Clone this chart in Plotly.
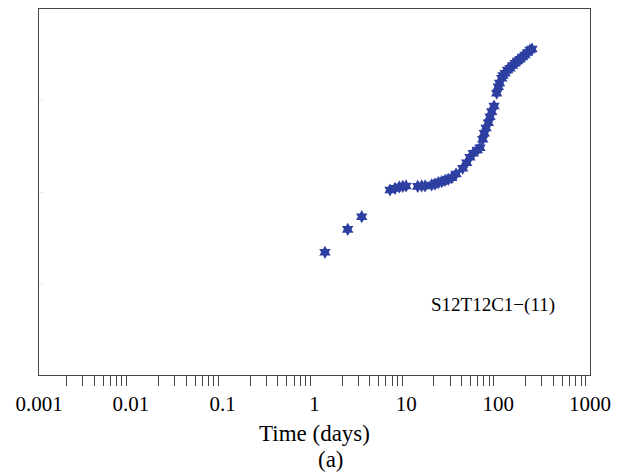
import plotly.graph_objects as go

# Time (days) and response (arbitrary units, axis 0-4)
time_days = [1.30, 2.30, 3.27, 6.64, 7.53, 8.39, 9.14, 9.93, 13.3, 14.7, 16.0,
             18.9, 20.5, 22.3, 24.3, 26.4, 28.6, 31.2, 34.8, 41.1, 45.4, 49.3,
             53.6, 59.3, 63.4, 67.9, 70.6, 73.8, 78.2, 81.5, 85.1, 90.2, 96.4,
             100.4, 103.5, 109.4, 112.9, 118.8, 126.4, 134.6, 143.3, 152.5,
             162.5, 173.0, 184.2, 195.9, 208.8, 222.2, 233.6]
response = [1.341, 1.592, 1.730, 2.022, 2.040, 2.055, 2.062, 2.066, 2.062, 2.066,
            2.066, 2.077, 2.087, 2.102, 2.113, 2.128, 2.139, 2.156, 2.197, 2.259,
            2.320, 2.379, 2.423, 2.459, 2.484, 2.576, 2.642, 2.699, 2.757, 2.823,
            2.878, 2.940, 3.079, 3.151, 3.190, 3.243, 3.273, 3.297, 3.333, 3.352,
            3.383, 3.407, 3.432, 3.450, 3.475, 3.497, 3.525, 3.552, 3.563]

decade_vals = [0.001, 0.01, 0.1, 1, 10, 100, 1000]
decade_text = ["0.001", "0.01", "0.1", "1", "10", "100", "1000"]
minor_vals = [m * d for d in [0.001, 0.01, 0.1, 1, 10, 100] for m in range(2, 10)]
label_text = "S12T12C1\u2212(11)"
x_title = "Time (days)"
panel_label = "(a)"

serif = "Liberation Serif, Times New Roman, serif"
blue = "#2E3FA2"

fig = go.Figure()
fig.add_trace(go.Scatter(
    x=time_days, y=response, mode="markers",
    marker=dict(symbol="hexagram", size=10, color=blue, line=dict(width=0)),
    showlegend=False,
))

fig.update_layout(
    width=624, height=474,
    margin=dict(l=39, r=34, t=9, b=99, autoexpand=False),
    paper_bgcolor="white", plot_bgcolor="white",
    font=dict(family=serif, color="black"),
    xaxis=dict(
        type="log", range=[-3, 3],
        tickvals=decade_vals, ticktext=decade_text,
        ticks="", ticklen=0, showgrid=False, zeroline=False,
        showline=True, linecolor="#444", linewidth=1, mirror=True,
        tickfont=dict(family=serif, size=21, color="black"),
        ticklabelstandoff=10,
        minor=dict(tickvals=minor_vals, ticks="outside", ticklen=10,
                   tickcolor="#444", tickwidth=1, showgrid=False),
    ),
    yaxis=dict(
        range=[0, 4], tickvals=[1, 2, 3], showticklabels=False,
        ticks="inside", ticklen=4, tickcolor="#e6e6e6",
        showgrid=False, zeroline=False,
        showline=True, linecolor="#444", linewidth=1, mirror=True,
    ),
    annotations=[
        dict(text=label_text, x=0.824, y=0.191, xref="paper", yref="paper",
             xanchor="center", yanchor="middle",
             showarrow=False, font=dict(family=serif, size=19, color="black")),
        dict(text=x_title, x=0.5, y=-0.161, xref="paper", yref="paper",
             xanchor="center", yanchor="middle",
             showarrow=False, font=dict(family=serif, size=23, color="black")),
        dict(text=panel_label, x=0.53, y=-0.232, xref="paper", yref="paper",
             xanchor="center", yanchor="middle",
             showarrow=False, font=dict(family=serif, size=23, color="black")),
    ],
)

fig.write_html("out.html")
